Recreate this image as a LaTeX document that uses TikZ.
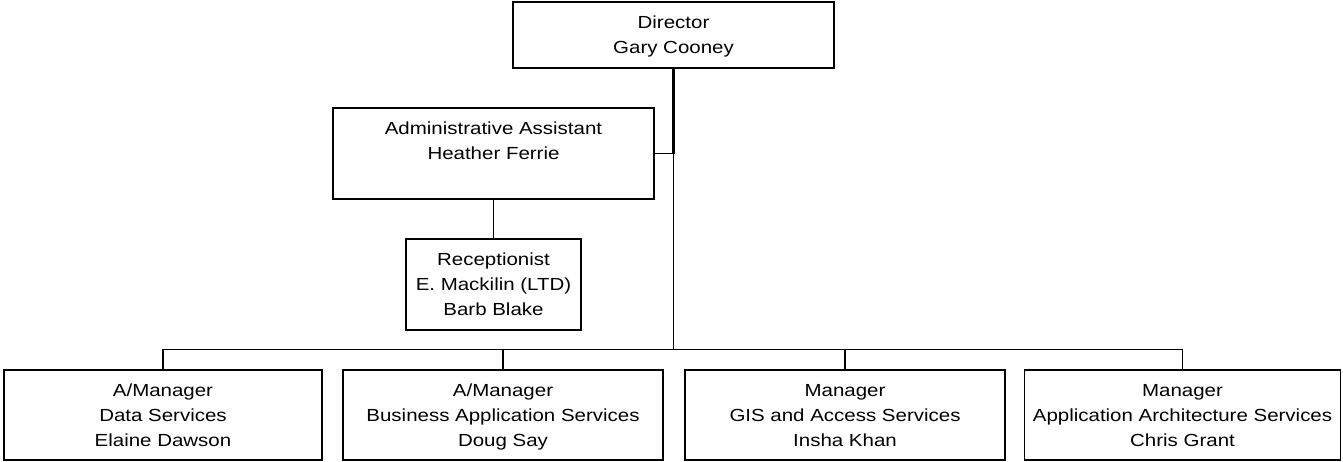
\documentclass[tikz,border=0pt]{standalone}
\usepackage{fontspec}
\setmainfont{Liberation Sans}[FakeStretch=1.17]
\newcommand\boxtxt[3]{\parbox[c][#2][t]{#1}{\centering\fontsize{17.5pt}{25pt}\selectfont\rule{0pt}{26pt}#3\par}}
\begin{document}
\begin{tikzpicture}[x=1pt,y=-1pt,
  orgbox/.style={draw=black, line width=1.3pt, inner sep=0pt, outer sep=0pt, fill=white},
  link/.style={draw=black, line width=1.1pt},
  thicklink/.style={draw=black, line width=2.2pt}]
\useasboundingbox (0,0) rectangle (1343,461);
\node[orgbox] (dir) at (673.5,35) {\boxtxt{321pt}{66pt}{Director\\Gary Cooney}};
\node[orgbox] (adm) at (493.5,153.5) {\boxtxt{321pt}{91pt}{Administrative Assistant\\Heather Ferrie}};
\node[orgbox] (rec) at (493.5,284.5) {\boxtxt{175pt}{91pt}{Receptionist\\E. Mackilin (LTD)\\Barb Blake}};
\node[orgbox] (m1) at (163,415) {\boxtxt{318pt}{90pt}{A/Manager\\Data Services\\Elaine Dawson}};
\node[orgbox] (m2) at (503,415) {\boxtxt{320pt}{90pt}{A/Manager\\Business Application Services\\Doug Say}};
\node[orgbox] (m3) at (845,415) {\boxtxt{320pt}{90pt}{Manager\\GIS and Access Services\\Insha Khan}};
\node[orgbox] (m4) at (1182.5,415) {\boxtxt{316pt}{90pt}{Manager\\Application Architecture Services\\Chris Grant}};
\coordinate (j) at (673.5,153.5);
\coordinate (bus) at (673.5,349.5);
\draw[thicklink] (dir.south) -- (j);
\draw[link] (adm.east) -- (j);
\draw[link] (j) -- (bus);
\draw[link] (adm.south) -- (rec.north);
\draw[link] (m1.north) |- (bus);
\draw[link] (m4.north) |- (bus);
\draw[link] (m2.north) -- (m2.north |- bus);
\draw[link] (m3.north) -- (m3.north |- bus);
\end{tikzpicture}
\end{document}
